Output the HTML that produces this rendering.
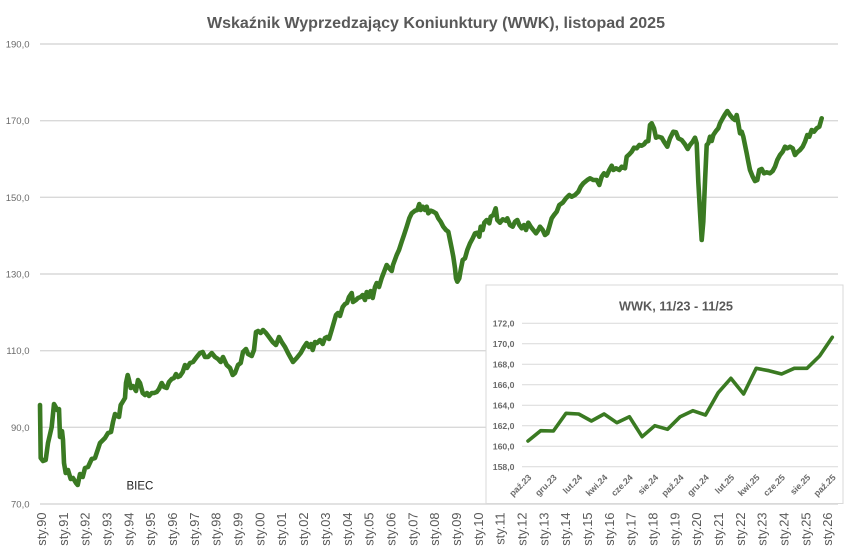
<!DOCTYPE html>
<html><head><meta charset="utf-8"><style>
html,body{margin:0;padding:0;background:#fff;}
svg{display:block;}
</style></head><body>
<svg width="844" height="555" viewBox="0 0 844 555" xmlns="http://www.w3.org/2000/svg">
<rect width="844" height="555" fill="#fff"/>
<text x="436" y="28" text-anchor="middle" font-family="Liberation Sans, sans-serif" font-weight="bold" font-size="15.5" fill="#595959" textLength="458" lengthAdjust="spacingAndGlyphs">Wskaźnik Wyprzedzający Koniunktury (WWK), listopad 2025</text>
<g stroke="#d9d9d9" stroke-width="1.4">
<line x1="40" y1="44" x2="838" y2="44"/>
<line x1="40" y1="120.7" x2="838" y2="120.7"/>
<line x1="40" y1="197.3" x2="838" y2="197.3"/>
<line x1="40" y1="274" x2="838" y2="274"/>
<line x1="40" y1="350.7" x2="838" y2="350.7"/>
<line x1="40" y1="427.3" x2="838" y2="427.3"/>
<line x1="40" y1="504" x2="838" y2="504"/>
</g>
<g font-family="Liberation Sans, sans-serif" font-size="9.5" fill="#6a6a6a" text-anchor="end">
<text x="29.5" y="47.5">190,0</text>
<text x="29.5" y="124.2">170,0</text>
<text x="29.5" y="200.8">150,0</text>
<text x="29.5" y="277.5">130,0</text>
<text x="29.5" y="354.2">110,0</text>
<text x="29.5" y="430.8">90,0</text>
<text x="29.5" y="507.5">70,0</text>
</g>
<g font-family="Liberation Sans, sans-serif" font-size="12.8" fill="#595959" text-anchor="end">
<text transform="translate(46.0,512.5) rotate(-90)">sty.90</text>
<text transform="translate(67.8,512.5) rotate(-90)">sty.91</text>
<text transform="translate(89.7,512.5) rotate(-90)">sty.92</text>
<text transform="translate(111.5,512.5) rotate(-90)">sty.93</text>
<text transform="translate(133.4,512.5) rotate(-90)">sty.94</text>
<text transform="translate(155.2,512.5) rotate(-90)">sty.95</text>
<text transform="translate(177.0,512.5) rotate(-90)">sty.96</text>
<text transform="translate(198.9,512.5) rotate(-90)">sty.97</text>
<text transform="translate(220.7,512.5) rotate(-90)">sty.98</text>
<text transform="translate(242.6,512.5) rotate(-90)">sty.99</text>
<text transform="translate(264.4,512.5) rotate(-90)">sty.00</text>
<text transform="translate(286.2,512.5) rotate(-90)">sty.01</text>
<text transform="translate(308.1,512.5) rotate(-90)">sty.02</text>
<text transform="translate(329.9,512.5) rotate(-90)">sty.03</text>
<text transform="translate(351.8,512.5) rotate(-90)">sty.04</text>
<text transform="translate(373.6,512.5) rotate(-90)">sty.05</text>
<text transform="translate(395.4,512.5) rotate(-90)">sty.06</text>
<text transform="translate(417.3,512.5) rotate(-90)">sty.07</text>
<text transform="translate(439.1,512.5) rotate(-90)">sty.08</text>
<text transform="translate(461.0,512.5) rotate(-90)">sty.09</text>
<text transform="translate(482.8,512.5) rotate(-90)">sty.10</text>
<text transform="translate(504.6,512.5) rotate(-90)">sty.11</text>
<text transform="translate(526.5,512.5) rotate(-90)">sty.12</text>
<text transform="translate(548.3,512.5) rotate(-90)">sty.13</text>
<text transform="translate(570.2,512.5) rotate(-90)">sty.14</text>
<text transform="translate(592.0,512.5) rotate(-90)">sty.15</text>
<text transform="translate(613.8,512.5) rotate(-90)">sty.16</text>
<text transform="translate(635.7,512.5) rotate(-90)">sty.17</text>
<text transform="translate(657.5,512.5) rotate(-90)">sty.18</text>
<text transform="translate(679.4,512.5) rotate(-90)">sty.19</text>
<text transform="translate(701.2,512.5) rotate(-90)">sty.20</text>
<text transform="translate(723.0,512.5) rotate(-90)">sty.21</text>
<text transform="translate(744.9,512.5) rotate(-90)">sty.22</text>
<text transform="translate(766.7,512.5) rotate(-90)">sty.23</text>
<text transform="translate(788.6,512.5) rotate(-90)">sty.24</text>
<text transform="translate(810.4,512.5) rotate(-90)">sty.25</text>
<text transform="translate(832.2,512.5) rotate(-90)">sty.26</text>
</g>
<polyline fill="none" stroke="#3a7a22" stroke-width="4.6" stroke-linejoin="round" stroke-linecap="round" points="40,405 40.7,458 43,461 45.7,460 48,443 51.7,427 54,404 55.7,407 57,410 59,409 60,437 62,431 63,440 64,463 65.7,473 68,470 70.7,479 73,478 76,483 77.7,485 80,474 82.7,477 85,468 88,467 91.7,459 95,458 100,443 105,438 108,433 111,432 113,422 115,414 117,416 119,417 120.7,405 122,403 125,398 126,383 127.7,375 129,380 130.7,388 133,386 136,391 138,380 140,383 142.7,393 145,395 147,393 149,396 151.7,393 154,393 156.7,392 159,389 161.7,383 164,387 166.7,388 169,382 171.7,379 174,378 176,374 178,377 180,376 182.7,372 185,365 187,368 190,363 193,362 196.7,357 200,353 202.7,352 205,357 208,357 211.7,353 215,357 218,359 220.7,362 223,357 226.7,365 230,368 232.7,375 235,373 238,365 240.7,363 243,352 246,349 248,354 251.7,356 254,350 256,332 258,331 260.7,333 263,330 266,333 269,337 272.7,342 276,345 279,337 281.7,342 285,347 288,353 293,362 296.7,358 300.7,353 304,347 306.7,343 309,347 311,344 312.7,350 315,342 317,343 320,340 322.7,344 325,338 327,337 329,339 331.7,330 334,322 336,315 338,313 340,316 342.7,307 345,304 347,303 349,297 351.7,293 353,302 356,300 358,298 360.7,297 362.7,295 365,300 366.7,292 368.7,297 370.7,291 372.7,298 375,287 376.7,283 379,287 381.7,278 384,272 386.7,265 389,268 391.7,271 393,265 396.7,255 399,250 401.7,241.7 404,235 406.7,226.7 409.3,218.3 411.7,213.3 415,210.7 417.3,210 419.3,204 420.7,210 422.7,206.7 425,210 426.7,206.7 428.3,213.3 430.7,210.7 433.3,211.7 436,213.3 438.3,218.3 440.7,221.7 443.3,226.7 446,230 448.3,231.7 450,240 451.7,248.3 453.3,256.7 455,268.3 456,278.3 457.3,281.7 459.3,278.3 460.7,270 462.7,260 465,258.3 467.3,250 470,243.3 472.7,238.3 475,233.3 477.3,232.7 479.3,236.7 480.7,226.7 482.7,230 484.3,222.7 486.7,220 489.3,223.3 490.7,216.7 493.3,215 495.7,208.3 497.3,220 500,222.7 502.7,219.3 506,220.7 507.3,218.3 510,225 512.7,226.7 515,221.7 517.3,220 519.3,225 521.7,228.3 524,225 526,230 528.3,222.7 530.7,226.7 533.3,230 536,233.3 538.3,230 540,226.7 542.7,230 545,235 547.3,233.3 549.3,226.7 551.7,218.3 554,215 556.7,211.7 559.3,205 562.7,202.7 566,198.3 569.3,195 571.7,196.7 575,195 578.3,191.7 580.7,186.7 583.3,183.3 587.3,180 590,178.3 593.3,180 596.7,180 599.3,185 601.7,176.7 604,173.3 606.7,175.7 609.3,170 611.7,165.7 613.3,170 616,168.3 619.3,170 621.7,166.7 625,168.3 626.7,156.7 629.3,154.3 631.7,151.7 634,147.7 636.7,148.3 639.3,145 641.7,145.7 644,144.3 646,141.7 648.3,141 650,125 651.7,123.3 654,128.3 656,137.7 658.3,136.7 661.7,137.7 664,141.7 667.3,146.7 670,138.3 673.3,131.7 676,132.3 678.3,138.3 681.7,140 685,144.3 687.7,149 690,145 692.7,141.7 695,137.7 696.7,143.3 698.3,181.7 700,211.7 701.7,240 703.3,221.7 705,181.7 706.7,145 708.3,143.3 710,136.7 711.7,141 713.3,135 716,131 718.3,128.3 720,123.3 722.7,118.3 725,114.3 727.3,111 730,115 732.7,118.3 735,120 736.7,115 738.3,123.3 740,133.3 741.7,131.7 743.3,136.7 745,145 746.7,153.3 748.3,161.7 750,170 752.7,176.7 755,181 757.3,180 759.3,170 761.7,169 764,173.3 766.7,172.3 770,173.3 772.7,171 775,166.7 777.3,160 780,155 782.7,151.7 785,146.7 787.3,148.3 790,146.7 792.7,148.3 795,155 797.3,152.3 800,150 802.7,146.7 805,141.7 807.3,135 809.3,136.7 811.7,130 814,131.7 816.7,128.3 819.3,126.7 821.7,118.3"/>
<text x="126.5" y="489.5" font-family="Liberation Sans, sans-serif" font-size="11.5" fill="#222">BIEC</text>
<!-- inset -->
<rect x="486" y="285" width="357" height="218.5" fill="#fff" stroke="#d9d9d9" stroke-width="1"/>
<text x="676" y="310.5" text-anchor="middle" font-family="Liberation Sans, sans-serif" font-weight="bold" font-size="12.6" fill="#595959" textLength="114" lengthAdjust="spacingAndGlyphs">WWK, 11/23 - 11/25</text>
<g stroke="#d9d9d9" stroke-width="1">
<line x1="522" y1="323.3" x2="838" y2="323.3"/>
<line x1="522" y1="343.8" x2="838" y2="343.8"/>
<line x1="522" y1="364.3" x2="838" y2="364.3"/>
<line x1="522" y1="384.7" x2="838" y2="384.7"/>
<line x1="522" y1="405.2" x2="838" y2="405.2"/>
<line x1="522" y1="425.7" x2="838" y2="425.7"/>
<line x1="522" y1="446.2" x2="838" y2="446.2"/>
<line x1="522" y1="466.7" x2="838" y2="466.7"/>
</g>
<g font-family="Liberation Sans, sans-serif" font-size="8.7" font-weight="bold" fill="#6a6a6a" text-anchor="end">
<text x="514.5" y="326.5">172,0</text>
<text x="514.5" y="347">170,0</text>
<text x="514.5" y="367.5">168,0</text>
<text x="514.5" y="387.9">166,0</text>
<text x="514.5" y="408.4">164,0</text>
<text x="514.5" y="428.9">162,0</text>
<text x="514.5" y="449.4">160,0</text>
<text x="514.5" y="469.9">158,0</text>
</g>
<g font-family="Liberation Sans, sans-serif" font-size="8.8" font-weight="bold" fill="#6a6a6a" text-anchor="end">
<text transform="translate(532,478) rotate(-45)">paź.23</text>
<text transform="translate(557.4,478) rotate(-45)">gru.23</text>
<text transform="translate(582.7,478) rotate(-45)">lut.24</text>
<text transform="translate(608.1,478) rotate(-45)">kwi.24</text>
<text transform="translate(633.4,478) rotate(-45)">cze.24</text>
<text transform="translate(658.8,478) rotate(-45)">sie.24</text>
<text transform="translate(684.2,478) rotate(-45)">paź.24</text>
<text transform="translate(709.5,478) rotate(-45)">gru.24</text>
<text transform="translate(734.9,478) rotate(-45)">lut.25</text>
<text transform="translate(760.2,478) rotate(-45)">kwi.25</text>
<text transform="translate(785.6,478) rotate(-45)">cze.25</text>
<text transform="translate(811,478) rotate(-45)">sie.25</text>
<text transform="translate(836.3,478) rotate(-45)">paź.25</text>
</g>
<polyline fill="none" stroke="#3a7a22" stroke-width="3.6" stroke-linejoin="round" stroke-linecap="round" points="528,441 540.7,430.7 553.4,431 566,413.3 578.7,414 591.4,421 604.1,414 616.8,422.7 629.4,416.7 642.1,436.7 654.8,425.7 667.5,429.3 680.2,416.7 692.8,410.7 705.5,415 718.2,392.7 730.9,378.3 743.6,394 756.2,368.3 768.9,370.7 781.6,374 794.3,368.3 807,368.3 819.6,356 832.3,337.3"/>
</svg>
</body></html>
